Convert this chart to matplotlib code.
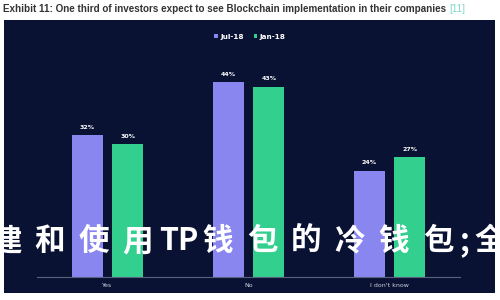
import matplotlib
matplotlib.use('Agg')
import matplotlib.pyplot as plt
import numpy as np
from matplotlib.patches import Rectangle

categories = ['Yes', 'No', "I don't know"]
jul18 = [32, 44, 24]
jan18 = [30, 43, 27]
series_names = ['Jul-18', 'Jan-18']
title = 'Exhibit 11: One third of investors expect to see Blockchain implementation in their companies'
overlay_chars = list('建和使用TP钱包的冷钱包;全')

navy = '#0a1234'
purple = '#8a86f0'
green = '#33cf8f'

fig = plt.figure(figsize=(5, 3), dpi=100)
fig.patch.set_facecolor('white')

# dark panel behind the chart
fig.patches.append(Rectangle((4/500, 7/300), 491/500, 273/300, transform=fig.transFigure,
                             facecolor=navy, edgecolor='none', zorder=-5))

t = fig.text(3/500, 1 - 9/300, title, fontsize=7.1, fontweight='bold', color='#333333',
             family='Liberation Sans', va='center', ha='left')
fig.canvas.draw()
bb = t.get_window_extent()
fig.text(bb.x1/500 + 3/500, 1 - 9/300, '[11]', fontsize=7.1, color='#7fd6c8',
         family='Liberation Sans', va='center', ha='left')

ax = fig.add_axes([37/500, 23/300, 423/500, 217/300])
ax.set_facecolor('none')
x = np.arange(len(categories))
w = 0.22
off = 0.145
b1 = ax.bar(x - off, jul18, w, color=purple, label=series_names[0], zorder=2)
b2 = ax.bar(x + off, jan18, w, color=green, label=series_names[1], zorder=2)
for bars, vals in [(b1, jul18), (b2, jan18)]:
    for r, v in zip(bars, vals):
        ax.text(r.get_x() + r.get_width()/2, v + 1.2, f'{v}%', ha='center', va='bottom',
                fontsize=4.5, color='white', fontweight='bold')

ax.set_xlim(-0.5, 2.5)
ax.set_ylim(0, 49)
ax.set_yticks([])
ax.set_xticks(x)
ax.set_xticklabels(categories, fontsize=4.5, color='#d0d3e0')
ax.tick_params(axis='x', length=0, pad=4)
for s in ['top', 'right', 'left']:
    ax.spines[s].set_visible(False)
ax.spines['bottom'].set_color('#5a6080')
ax.spines['bottom'].set_linewidth(0.8)

leg = fig.legend(loc='center', bbox_to_anchor=(0.5, 1 - 37/300), ncol=2, frameon=False,
                 labelcolor='white', handlelength=0.5, handleheight=0.5,
                 handletextpad=0.3, columnspacing=1.4, prop={'weight': 'bold', 'size': 5.2})

# big overlay text, placed glyph by glyph
xpos = 6
prev = None
for ch in overlay_chars:
    if ch == ';':
        half = 4
    elif ch.isascii():
        half = 9
    else:
        half = 22
    if prev is not None:
        xpos += prev + half
    fig.text(xpos/500, 1 - 241/300, ch, fontsize=22, fontweight='bold', color='white',
             family=['Noto Sans CJK SC', 'DejaVu Sans'], ha='center', va='center', zorder=5)
    prev = half

fig.savefig('out.png', dpi=100, facecolor=fig.get_facecolor())
